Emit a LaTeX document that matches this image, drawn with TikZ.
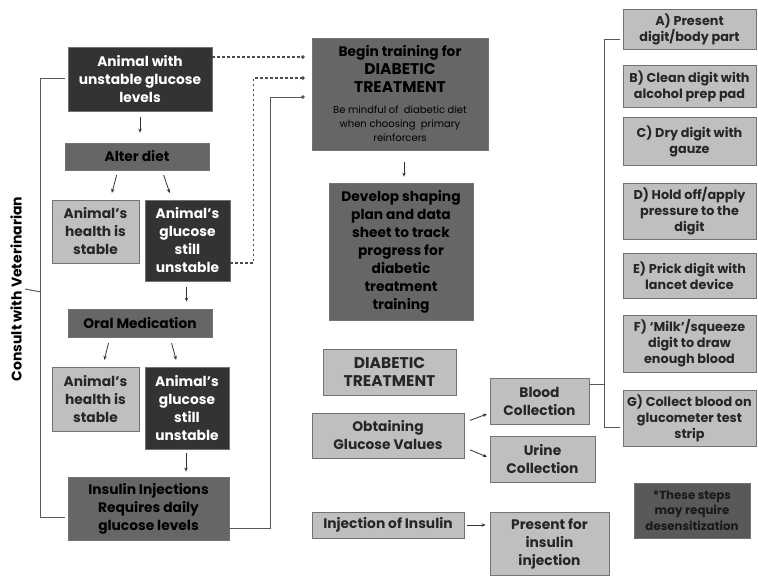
\documentclass[tikz,border=0pt]{standalone}
\usepackage{fontspec}
\setmainfont{Poppins}
\usetikzlibrary{arrows.meta}

\begin{document}
\begin{tikzpicture}[x=1pt,y=-1pt]
\tikzstyle{box}=[draw=black!55,line width=0.8pt,align=center,inner sep=1pt,font=\bfseries\fontsize{13.8}{18}\selectfont]
\tikzstyle{darkbox}=[box,fill=black!80,text=white]
\tikzstyle{midbox}=[box,fill=black!60,text=black]
\tikzstyle{lightbox}=[box,fill=black!25,text=black!85]
\tikzstyle{stepbox}=[lightbox,minimum width=133pt,font=\bfseries\fontsize{12.8}{16}\selectfont]
\tikzstyle{arr}=[-{Stealth[length=4pt,width=3.5pt]},draw=black!80,line width=0.8pt]
\tikzstyle{dotline}=[draw=black!70,line width=1.2pt,dash pattern=on 2.5pt off 2.5pt,-{Circle[length=3.5pt]}]
\tikzstyle{line}=[draw=black!65,line width=1pt]
\newcommand{\capsline}[1]{{\fontsize{15.5}{18}\selectfont #1}}
\newcommand{\smallline}[1]{{\mdseries\fontsize{10}{13}\selectfont #1}}
\useasboundingbox (0,0) rectangle (758,579);

% left column
\node[darkbox,minimum width=144pt,minimum height=64pt] (animal) at (140,79) {Animal with\\unstable glucose\\levels};
\node[midbox,minimum width=144pt,minimum height=27pt] (alter) at (137,156.5) {Alter diet};
\node[lightbox,minimum width=87pt,minimum height=63pt] (stable1) at (95.5,231.5) {Animal's\\health is\\stable};
\node[darkbox,minimum width=85pt,minimum height=81pt] (gluc1) at (187.5,240.5) {Animal's\\glucose\\still\\unstable};
\node[midbox,minimum width=144pt,minimum height=28pt] (oral) at (140,323) {Oral Medication};
\node[lightbox,minimum width=87pt,minimum height=64pt] (stable2) at (95.5,399) {Animal's\\health is\\stable};
\node[darkbox,minimum width=84pt,minimum height=82pt] (gluc2) at (187,408) {Animal's\\glucose\\still\\unstable};
\node[midbox,minimum width=161pt,minimum height=63pt] (insulin) at (148.5,508.5) {Insulin Injections\\Requires daily\\glucose levels};
\node[rotate=90,font=\bfseries\fontsize{14}{16}\selectfont] (vet) at (16,289) {Consult with Veterinarian};
\coordinate (vetjoin) at (41,292);

\draw[arr,shorten <=6pt,shorten >=10pt] (animal.south) -- (animal.south |- alter.north);
\draw[arr,shorten <=5pt,shorten >=7pt] ([xshift=-19pt]alter.south) -- ([xshift=14.5pt]stable1.north);
\draw[arr,shorten <=5pt,shorten >=7pt] ([xshift=25pt]alter.south) -- ([xshift=-15.5pt]gluc1.north);
\draw[arr,shorten <=6pt,shorten >=7pt] ([xshift=-1pt]gluc1.south) -- ([xshift=-1pt]gluc1.south |- oral.north);
\draw[arr,shorten <=6pt,shorten >=7pt] ([xshift=-30pt]oral.south) -- ([xshift=7pt]stable2.north);
\draw[arr,shorten <=6pt,shorten >=7pt] ([xshift=30pt]oral.south) -- ([xshift=-9pt]gluc2.north);
\draw[arr,shorten <=4pt,shorten >=5pt] ([xshift=-1pt]gluc2.south) -- ([xshift=-1pt]gluc2.south |- insulin.north);

\draw[line] ([xshift=-3pt,yshift=1pt]animal.west) -- ++(-24,0) |- ([xshift=-3pt,yshift=-8.5pt]insulin.west);
\draw[line] (vet.south) -- (vetjoin);

% middle column
\node[midbox,minimum width=176pt,minimum height=112pt] (begin) at (400,94) {Begin training for\\\capsline{DIABETIC}\\\capsline{TREATMENT}\\[3pt]\smallline{Be mindful of \ diabetic diet}\\[-4pt]\smallline{when choosing \ primary}\\[-4pt]\smallline{reinforcers}};
\node[midbox,minimum width=144pt,minimum height=137pt] (develop) at (401,251.5) {Develop shaping\\plan and data\\sheet to track\\progress for\\diabetic\\treatment\\training};
\node[lightbox,minimum width=133pt,minimum height=46pt] (dtreat) at (389.5,372) {\capsline{DIABETIC}\\\capsline{TREATMENT}};
\node[lightbox,minimum width=152pt,minimum height=45pt] (obtain) at (388,435.5) {Obtaining\\Glucose Values};
\node[lightbox,minimum width=99pt,minimum height=46pt] (blood) at (539.5,401) {Blood\\Collection};
\node[lightbox,minimum width=105pt,minimum height=46pt] (urine) at (542.5,459) {Urine\\Collection};
\node[lightbox,minimum width=152pt,minimum height=26pt] (inject) at (388,525) {Injection of Insulin};
\node[lightbox,minimum width=119pt,minimum height=63pt] (present) at (549.5,543.5) {Present for\\insulin\\injection};

\draw[dotline,shorten >=7pt] ([yshift=22pt]animal.east) -- ([yshift=37pt]begin.west);
\draw[dotline,shorten >=7pt] ([yshift=-22.5pt]gluc1.east) -- ++(23,0) |- ([yshift=16pt]begin.west);
\draw[line,-{Circle[length=3.5pt]},shorten >=7pt] ([yshift=-19.5pt]insulin.east) -- ++(41,0) |- ([yshift=-3pt]begin.west);
\draw[arr,shorten <=12pt,shorten >=6pt] ([xshift=4pt]begin.south) -- ([xshift=4pt]begin.south |- develop.north);
\draw[arr,shorten <=6pt,shorten >=3pt] ([yshift=13pt]obtain.east) -- ([yshift=-12pt]blood.west);
\draw[arr,shorten <=6pt,shorten >=3pt] ([yshift=-12pt]obtain.east) -- ([yshift=1pt]urine.west);
\draw[arr,shorten <=3pt,shorten >=4pt] (inject.east) -- (inject.east -| present.west);

% right column
\node[stepbox,minimum height=40pt] (stepA) at (689.5,29) {A) Present\\digit/body part};
\node[stepbox,minimum height=42pt] (stepB) at (689.5,86) {B) Clean digit with\\alcohol prep pad};
\node[stepbox,minimum height=48pt] (stepC) at (689.5,141) {C) Dry digit with\\gauze};
\node[stepbox,minimum height=56pt] (stepD) at (689.5,211) {D) Hold off/apply\\pressure to the\\digit};
\node[stepbox,minimum height=45pt] (stepE) at (689.5,275.5) {E) Prick digit with\\lancet device};
\node[stepbox,minimum height=57pt] (stepF) at (689.5,343.5) {F) `Milk'/squeeze\\digit to draw\\enough blood};
\node[stepbox,minimum height=56pt] (stepG) at (689.5,418) {G) Collect blood on\\glucometer test\\strip};
\node[box,fill=black!65,text=black!90,minimum width=116pt,minimum height=55pt,font=\bfseries\fontsize{11.8}{15.5}\selectfont] (note) at (692,510.5) {*These steps\\may require\\desensitization};

\draw[line] ([xshift=-3pt,yshift=-10pt]stepA.west) -- ++(-15,0) |- ([xshift=-3pt,yshift=-9pt]stepG.west);
\draw[line] ([yshift=17pt]blood.east) -- ++(16,0);
\end{tikzpicture}
\end{document}
